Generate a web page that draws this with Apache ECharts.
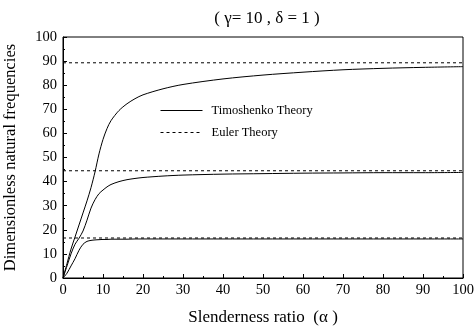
<!DOCTYPE html>
<html>
<head>
<meta charset="utf-8">
<script src="https://cdn.jsdelivr.net/npm/echarts@6/dist/echarts.min.js"></script>
<style>
  html, body { margin: 0; padding: 0; background: #fff; }
  #chart { width: 476px; height: 331px; }
</style>
</head>
<body>
<div id="chart"></div>
<script>
// slenderness ratio samples
const alpha = [0, 1, 2, 3, 4, 5, 6, 7, 8, 9, 10, 11, 12, 14, 16, 18, 20, 25, 30, 40, 50, 60, 70, 80, 90, 100]
// Timoshenko theory, modes 1..3
const timo1 = [0, 2, 5, 8, 11.5, 14, 15.2, 15.6, 15.8, 15.9, 16, 16, 16.1, 16.1, 16.1, 16.2, 16.2, 16.2, 16.2, 16.2, 16.2, 16.2, 16.2, 16.2, 16.2, 16.2]
const timo2 = [0, 5, 10, 14, 16.5, 19.5, 24, 29, 32.5, 35, 36.5, 37.8, 38.8, 40, 40.8, 41.3, 41.7, 42.3, 42.7, 43.1, 43.3, 43.5, 43.6, 43.7, 43.7, 43.8]
const timo3 = [0, 6, 12, 17, 22, 27, 32, 37.5, 44, 51.5, 57.5, 62, 65.3, 69.5, 72.3, 74.4, 76, 78.5, 80.3, 82.6, 84.2, 85.4, 86.4, 87, 87.4, 87.7]
// Euler theory levels
const eulerX = [0, 100]
const euler1 = [16.6, 16.6]
const euler2 = [44.5, 44.5]
const euler3 = [89.3, 89.3]

const xTicks = [0, 10, 20, 30, 40, 50, 60, 70, 80, 90, 100]

const font = '"Liberation Serif", "Times New Roman", serif'

function pairs(xs, ys) {
  return xs.map((x, i) => [x, ys[i]])
}

function solid(ys) {
  return {
    name: 'Timoshenko Theory',
    type: 'line',
    smooth: 0.3,
    symbol: 'none',
    lineStyle: { color: '#000', width: 1 },
    itemStyle: { color: '#000' },
    data: pairs(alpha, ys),
    z: 3,
  }
}

function dashed(ys) {
  return {
    name: 'Euler Theory',
    type: 'line',
    symbol: 'none',
    lineStyle: { color: '#000', width: 1, type: [3, 3] },
    itemStyle: { color: '#000' },
    data: pairs(eulerX, ys),
    z: 2,
  }
}

const chart = echarts.init(document.getElementById('chart'))
chart.setOption({
  animation: false,
  backgroundColor: '#fff',
  title: {
    text: '( γ= 10 , δ = 1 )',
    left: 262,
    textAlign: 'center',
    top: 5,
    textStyle: { fontFamily: font, fontSize: 17, fontWeight: 'normal', color: '#000' },
  },
  legend: {
    data: ['Timoshenko Theory', 'Euler Theory'],
    orient: 'vertical',
    left: 155,
    top: 99,
    itemWidth: 42,
    itemHeight: 10,
    itemGap: 9,
    itemStyle: { opacity: 0 },
    lineStyle: { width: 1 },
    textStyle: { fontFamily: font, fontSize: 12.5, color: '#000', padding: [0, 0, 0, 4] },
  },
  grid: { left: 63, right: 13, top: 37, bottom: 53, outerBoundsMode: 'none', containLabel: false },
  xAxis: {
    type: 'value',
    min: 0,
    max: 100,
    interval: 10,
    name: 'Slenderness ratio  (α )',
    nameLocation: 'middle',
    nameGap: 31,
    nameTextStyle: { fontFamily: font, fontSize: 17, color: '#000' },
    axisLine: { lineStyle: { color: '#000', width: 1 } },
    axisTick: { inside: true, length: 4, lineStyle: { color: '#000' } },
    minorTick: { show: true, splitNumber: 2, length: 2, lineStyle: { color: '#000' } },
    axisLabel: {
      fontFamily: font, fontSize: 14.5, color: '#000', margin: 5,
      formatter: v => xTicks.includes(v) ? String(v) : '',
    },
    splitLine: { show: false },
  },
  yAxis: {
    type: 'value',
    min: 0,
    max: 100,
    interval: 10,
    name: 'Dimensionless natural frequencies',
    nameLocation: 'middle',
    nameGap: 44,
    nameTextStyle: { fontFamily: font, fontSize: 16.5, color: '#000' },
    axisLine: { show: true, lineStyle: { color: '#000', width: 1 } },
    axisTick: { show: true, inside: true, length: 4, lineStyle: { color: '#000' } },
    minorTick: { show: true, splitNumber: 2, length: 2, lineStyle: { color: '#000' } },
    axisLabel: { fontFamily: font, fontSize: 14.5, color: '#000', margin: 6 },
    splitLine: { show: false },
  },
  graphic: [{
    type: 'rect',
    shape: { x: 63, y: 37, width: 400, height: 241 },
    style: { fill: 'none', stroke: '#000', lineWidth: 1 },
    silent: true,
    z: 0,
  }],
  series: [
    solid(timo1), solid(timo2), solid(timo3),
    dashed(euler1), dashed(euler2), dashed(euler3),
  ],
})
</script>
</body>
</html>
